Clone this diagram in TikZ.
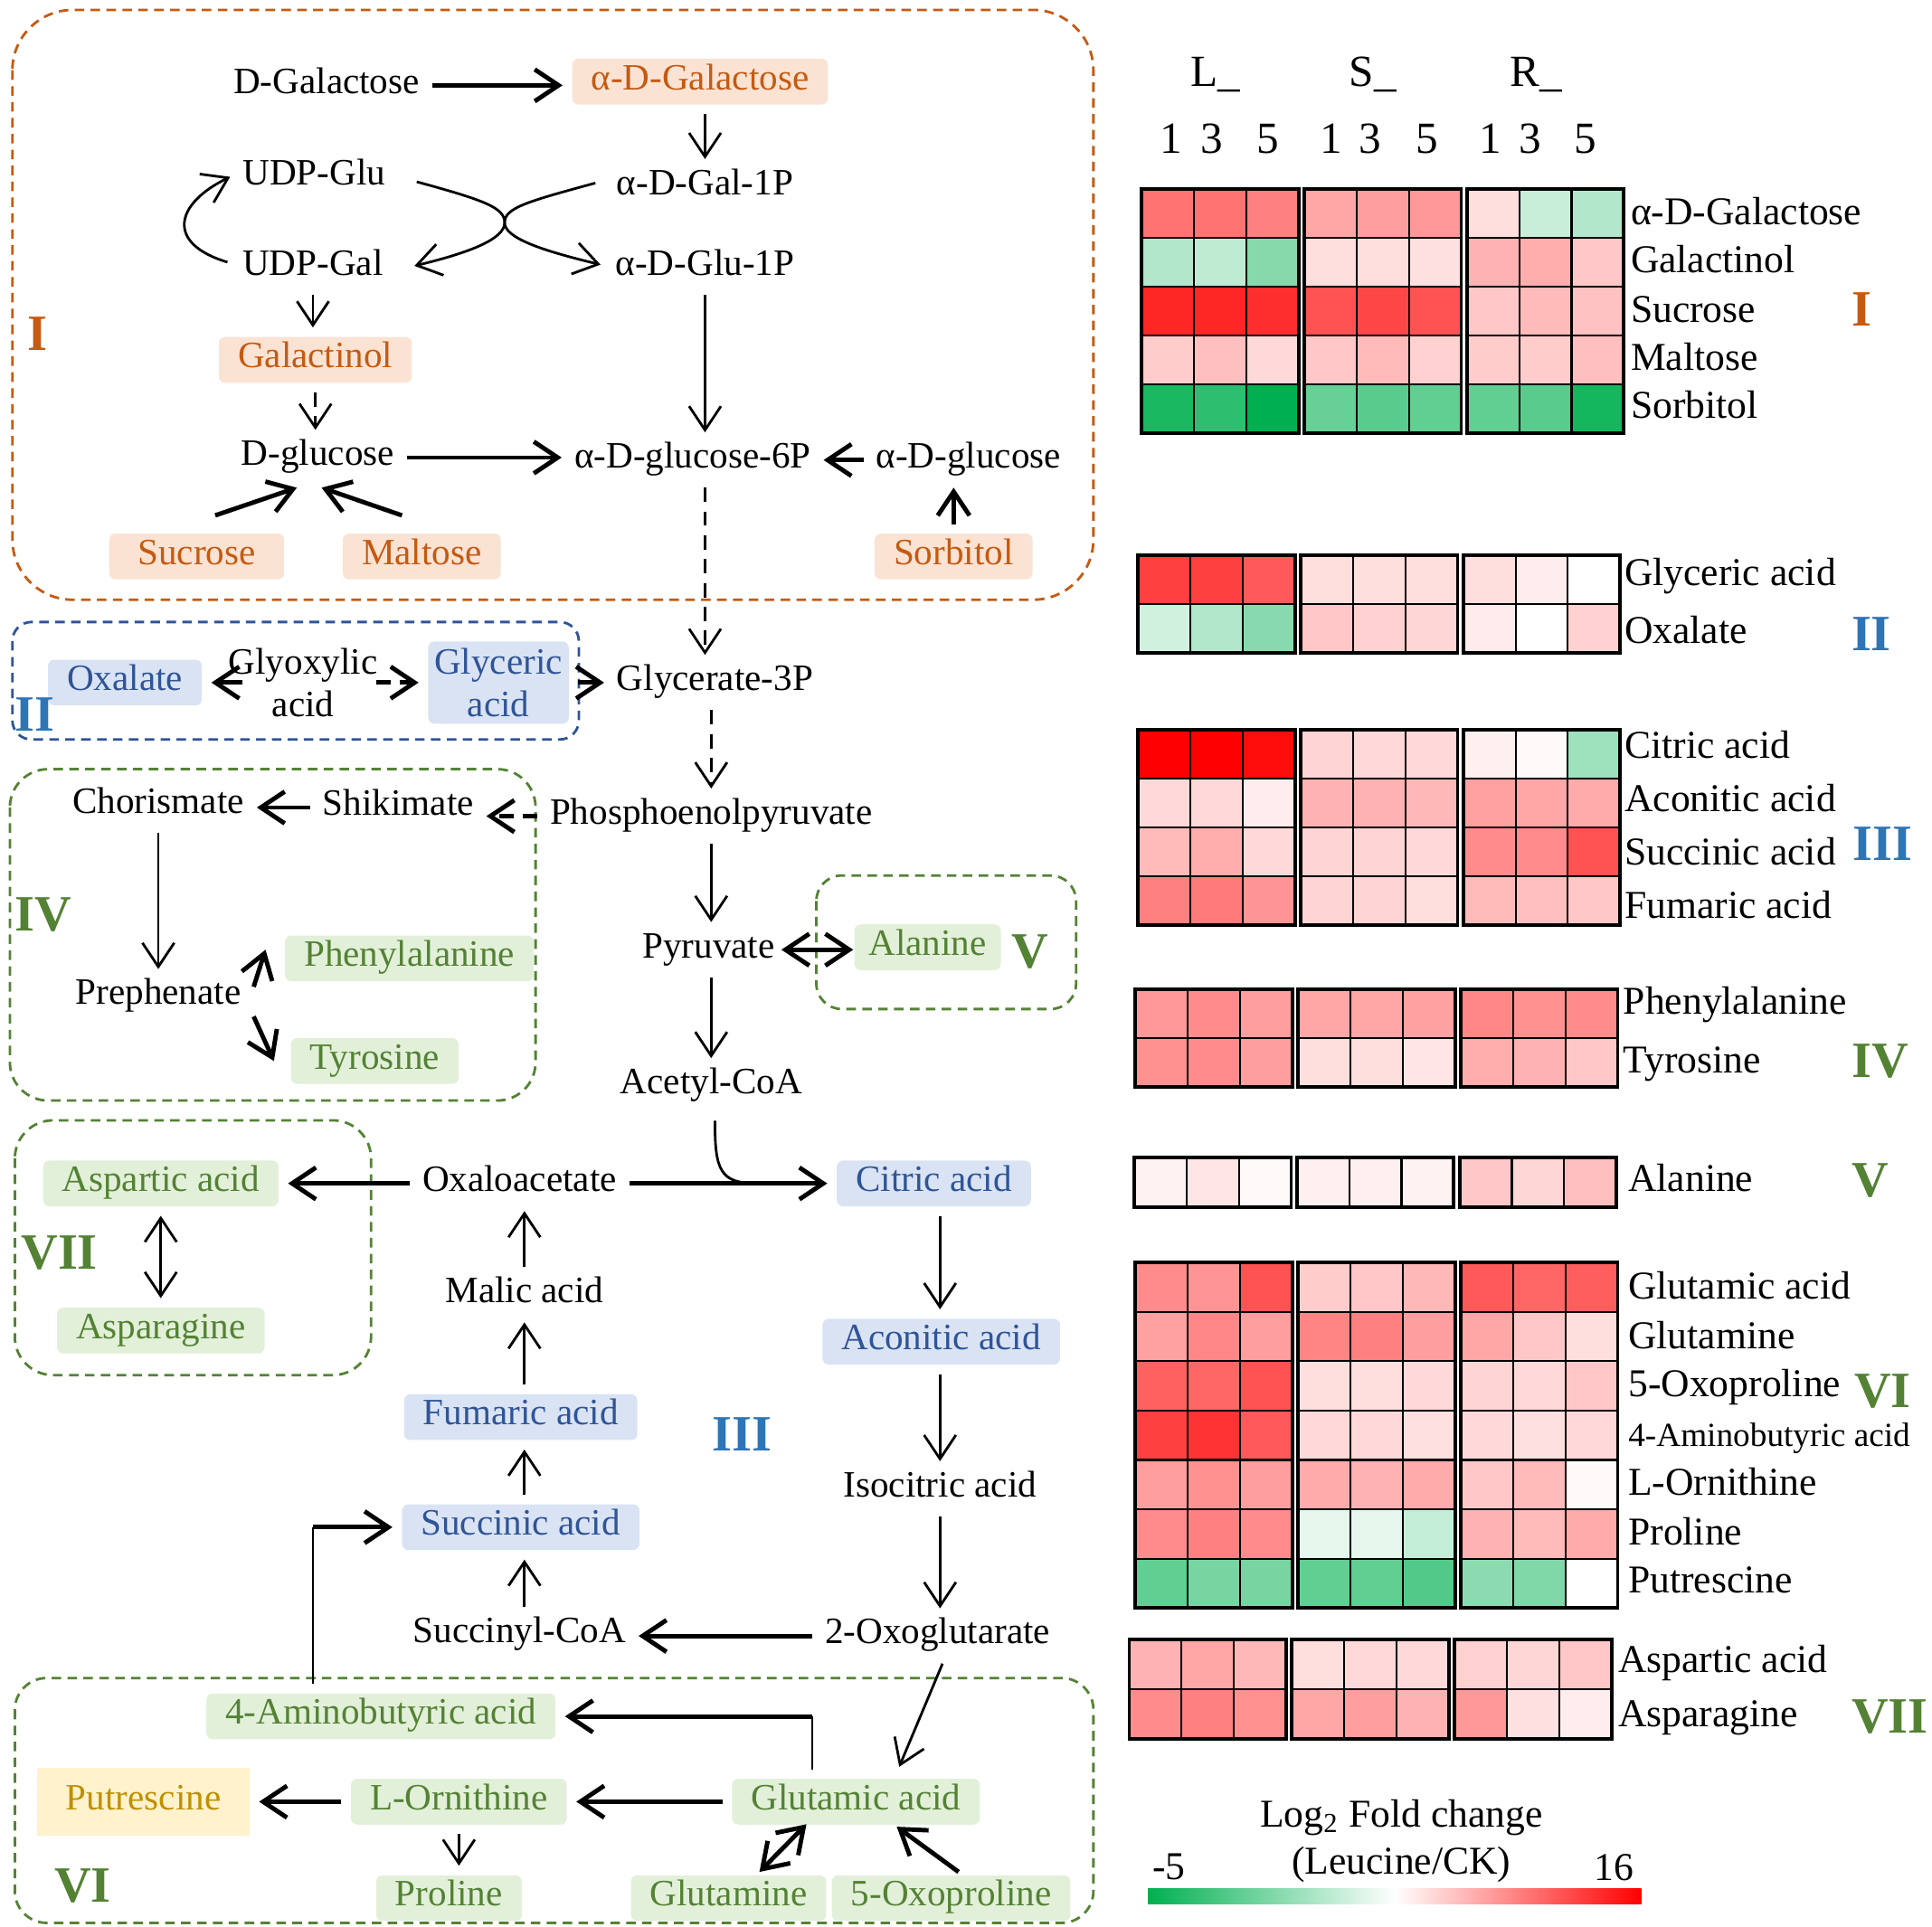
\documentclass[tikz,border=0pt]{standalone}
\usepackage{fontspec}
\setmainfont{Liberation Serif}
\usepackage{tikz}
\usetikzlibrary{arrows.meta,calc}

\definecolor{orgtext}{HTML}{C55A11}
\definecolor{orgfill}{HTML}{FBE3D4}
\definecolor{blutext}{HTML}{2F5597}
\definecolor{blufill}{HTML}{DAE3F3}
\definecolor{bluroman}{HTML}{2E75B6}
\definecolor{grntext}{HTML}{548235}
\definecolor{grnfill}{HTML}{E2F0D9}
\definecolor{yelfill}{HTML}{FFF2CC}
\definecolor{yeltext}{HTML}{BF9000}
\definecolor{hr}{RGB}{255,0,0}
\definecolor{hg}{RGB}{0,176,80}

\newcommand{\pathfont}{\fontsize{11.7}{13.6}\selectfont}
\newcommand{\heatfont}{\fontsize{12.4}{14}\selectfont}
\newcommand{\headfont}{\fontsize{14}{16}\selectfont}
\newcommand{\numfont}{\fontsize{16}{18}\selectfont\bfseries}

% one heatmap row: x of first block, top, height, nine colours
\newcommand{\hmrow}[4]{%
  \pgfmathsetmacro{\yt}{#2}
  \foreach \hc [count=\ci from 0] in #4 {
    \pgfmathsetmacro{\xl}{#1+floor(\ci/3)*131.5+mod(\ci,3)*42.3}
    \filldraw[hmcell,fill=\hc] (\xl,\yt) rectangle ++(42.3,#3);
  }}
% thick frames round the three blocks
\newcommand{\hmframe}[3]{%
  \foreach \bk in {0,1,2}
    \draw[line width=1.1pt] ({#1+\bk*131.5},#2) rectangle ++(126.9,#3);}

\begin{document}
\begin{tikzpicture}[x=0.013675cm,y=-0.013675cm,
    >={Straight Barb[length=7.5pt,width=10pt]},
    oneline/.style={text height=0.72em,text depth=0.22em},
    met/.style={font=\pathfont,inner sep=1pt,outer sep=3pt,oneline},
    mbox/.style={font=\pathfont,rounded corners=2pt,inner xsep=6pt,inner ysep=2.5pt,outer sep=3pt},
    obox/.style={mbox,oneline,fill=orgfill,text=orgtext},
    bbox/.style={mbox,oneline,fill=blufill,text=blutext},
    gbox/.style={mbox,oneline,fill=grnfill,text=grntext},
    ybox/.style={mbox,oneline,fill=yelfill,text=yeltext,rounded corners=0pt,inner xsep=9pt,inner ysep=6pt},
    arr/.style={->,line width=0.8pt},
    arrb/.style={->,line width=1.4pt},
    dbl/.style={<->,line width=0.8pt},
    dblb/.style={<->,line width=1.4pt},
    dsh/.style={dash pattern=on 4.5pt off 3pt},
    reg/.style={dash pattern=on 3pt off 2pt,line width=0.8pt},
    numlab/.style={font=\numfont,inner sep=0pt},
    hlab/.style={font=\heatfont,anchor=west,inner sep=0pt,text height=0.7em,text depth=0.2em},
    hdr/.style={font=\headfont,inner sep=0pt},
    hmcell/.style={draw=black,line width=0.6pt}]
  \useasboundingbox (0,0) rectangle (1562,1558);

  % region frames
  \draw[reg,orgtext,rounded corners=19pt] (10,8) rectangle (884,485);
  \draw[reg,blutext,rounded corners=6pt] (10,503) rectangle (468,598);
  \draw[reg,grntext,rounded corners=12pt] (8,622) rectangle (433,890);
  \draw[reg,grntext,rounded corners=8pt] (660,708) rectangle (870,816);
  \draw[reg,grntext,rounded corners=12pt] (12,906) rectangle (300,1112);
  \draw[reg,grntext,rounded corners=10pt] (12,1357) rectangle (884,1555);

  % sugars
  \node[met] (dgal) at (264,69) {D-Galactose};
  \node[obox] (adgal) at (566,66) {α-D-Galactose};
  \node[met] (gal1p) at (570,151) {α-D-Gal-1P};
  \node[met] (udpglu) at (254,143) {UDP-Glu};
  \node[met] (udpgal) at (253,216) {UDP-Gal};
  \node[met] (glu1p) at (570,216) {α-D-Glu-1P};
  \node[obox] (galnol) at (255,291) {Galactinol};
  \node[met] (dglc) at (257,370) {D-glucose};
  \node[met] (g6p) at (560,372) {α-D-glucose-6P};
  \node[met] (aglc) at (783,372) {α-D-glucose};
  \node[obox,inner xsep=9pt] (sucr) at (159,450) {Sucrose};
  \node[obox] (malt) at (341,450) {Maltose};
  \node[obox] (sorb) at (771,450) {Sorbitol};
  \coordinate (xc) at (408,180);

  \draw[arrb] (dgal.east) -- (dgal.east -| adgal.west);
  \draw[arr] (adgal.south -| gal1p) -- (gal1p.north);
  \draw[arr] ($(udpglu.east)+(15,4)$) .. controls +(55,15) and +(0,-12) .. (xc)
    .. controls +(0,12) and +(50,-12) .. ($(udpgal.east)+(15,-1)$);
  \draw[arr] ($(gal1p.west)+(-7,-3)$) .. controls +(-55,15) and +(0,-12) .. (xc)
    .. controls +(0,12) and +(-50,-12) .. ($(glu1p.west)+(-2,-2)$);
  \draw[arr] ($(udpgal.west)+(-2,-4)$) .. controls +(-50,-15) and +(-45,22) .. (udpglu.west);
  \draw[arr] (udpgal.south) -- (udpgal.south |- galnol.north);
  \draw[arr,dsh] (galnol.south) -- (galnol.south |- dglc.north);
  \draw[arr] (glu1p.south) -- (glu1p.south |- g6p.north);
  \draw[arrb] (dglc.east) -- (dglc.east -| g6p.west);
  \draw[arrb] (aglc.west) -- (aglc.west -| g6p.east);
  \draw[arrb] ($(sucr.north)+(15,-7)$) -- ($(dglc.south)+(-17,2)$);
  \draw[arrb] ($(malt.north)+(-16,-7)$) -- ($(dglc.south)+(3,2)$);
  \draw[arrb] (sorb.north) -- (sorb.north |- aglc.south);

  % glyoxylate branch
  \node[bbox] (oxal) at (101,552) {Oxalate};
  \node[font=\pathfont,align=center,inner sep=1pt] (glyox) at (245,552) {Glyoxylic\\acid};
  \node[mbox,fill=blufill,text=blutext,align=center,inner xsep=2pt,inner ysep=2pt] (glyc) at (403,552) {Glyceric\\acid};
  \node[met] (g3p) at (578,552) {Glycerate-3P};
  \draw[arrb] ($(glyox.west)+(14,0)$) -- (oxal.east);
  \draw[arrb,dsh] ($(glyox.east)+(-4,0)$) -- (glyc.west);
  \draw[arrb] (glyc.east) -- (glyc.east -| g3p.west);
  \draw[arr,dsh] (g6p.south -| glu1p) -- (glu1p |- g3p.north);

  % shikimate branch
  \node[met] (chor) at (128,651) {Chorismate};
  \node[met] (shik) at (322,653) {Shikimate};
  \node[met] (pep) at (575,660) {Phosphoenolpyruvate};
  \node[met] (preph) at (128,806) {Prephenate};
  \node[gbox] (phe) at (331,775) {Phenylalanine};
  \node[gbox] (tyr) at (303,858) {Tyrosine};
  \draw[arr,dsh] (g3p.south -| pep) -- (pep.north);
  \draw[arrb] (shik.west) -- (shik.west -| chor.east);
  \draw[arrb,dsh] (pep.west) -- (pep.west -| shik.east);
  \draw[arr] (chor.south) -- (chor.south |- preph.north);
  \draw[arrb] ($(preph.east)+(0,-8)$) -- ($(phe.west)+(-8,-7)$);
  \draw[arrb] ($(preph.east)+(0,16)$) -- ($(tyr.west)+(-6,0)$);

  % pyruvate
  \node[met] (pyr) at (573,768) {Pyruvate};
  \node[gbox,inner xsep=4.5pt,outer sep=0pt] (ala) at (750,766) {Alanine};
  \node[met] (acoa) at (575,878) {Acetyl-CoA};
  \draw[arr] (pep.south) -- (pep.south |- pyr.north);
  \draw[dblb] ($(pyr.east)+(-5,0)$) -- ($(pyr.east -| ala.west)+(-1,0)$);
  \draw[arr] (pyr.south -| pep) -- (pep |- acoa.north);

  % TCA cycle
  \node[met] (oaa) at (420,957) {Oxaloacetate};
  \node[bbox] (citr) at (755,957) {Citric acid};
  \node[gbox] (asp) at (130,957) {Aspartic acid};
  \node[gbox] (asn) at (130,1076) {Asparagine};
  \node[met] (malic) at (424,1047) {Malic acid};
  \node[bbox] (fum) at (421,1146) {Fumaric acid};
  \node[bbox] (succ) at (421,1235) {Succinic acid};
  \node[met] (sccoa) at (420,1322) {Succinyl-CoA};
  \node[bbox] (acon) at (761,1085) {Aconitic acid};
  \node[met] (isocit) at (760,1204) {Isocitric acid};
  \node[met] (oxog) at (758,1323) {2-Oxoglutarate};
  \coordinate (acj) at (612,957);
  \draw[arrb] (oaa.west) -- (oaa.west -| asp.east);
  \draw[arrb] (oaa.east) -- (oaa.east -| citr.west);
  \draw[line width=0.8pt] ($(acoa.south)+(3,6)$) .. controls +(0,40) and +(-30,0) .. (acj);
  \draw[dbl] (asp.south) -- (asn.north);
  \draw[arr] (malic.north) -- (malic.north |- oaa.south);
  \draw[arr] (fum.north -| malic) -- (malic.south);
  \draw[arr] (succ.north -| malic) -- (malic |- fum.south);
  \draw[arr] (sccoa.north -| malic) -- (malic |- succ.south);
  \draw[arr] (citr.south -| isocit) -- (isocit |- acon.north);
  \draw[arr] (acon.south -| isocit) -- (isocit.north);
  \draw[arr] (isocit.south) -- (isocit.south |- oxog.north);
  \draw[arrb] (oxog.west) -- (oxog.west -| sccoa.east);

  % amino acids
  \node[gbox] (gaba) at (308,1388) {4-Aminobutyric acid};
  \node[gbox] (glut) at (692,1457) {Glutamic acid};
  \node[gbox] (orn) at (371,1457) {L-Ornithine};
  \node[ybox] (put) at (116,1457) {Putrescine};
  \node[gbox] (pro) at (363,1535) {Proline};
  \node[gbox] (gln) at (589,1535) {Glutamine};
  \node[gbox] (oxpro) at (769,1535) {5-Oxoproline};
  \draw[arr] ($(oxog.south)+(4,0)$) -- ($(glut.north)+(35,-2)$);
  \draw[arrb] (glut.west) -- (glut.west -| orn.east);
  \draw[arrb] (orn.west) -- (orn.west -| put.east);
  \draw[arr] (orn.south) -- (orn.south |- pro.north);
  \draw[dblb] ($(gln.north)+(25,5)$) -- ($(glut.south)+(-40,-8)$);
  \draw[arrb] ($(oxpro.north)+(6,5)$) -- ($(glut.south)+(33,-6)$);
  \coordinate (gtop) at ($(glut.north)+(-35,0)$);
  \draw[line width=0.6pt] (gtop) -- (gtop |- gaba.east);
  \draw[arrb] (gtop |- gaba.east) -- (gaba.east);
  \coordinate (gbot) at ($(gaba.north)+(-55,0)$);
  \draw[line width=0.6pt] (gbot) -- (gbot |- succ.west);
  \draw[arrb] (gbot |- succ.west) -- (succ.west);

  % region numbers
  \node[numlab,text=orgtext] (rI) at (30,270) {I};
  \node[numlab,text=bluroman] (rII) at (28,578) {II};
  \node[numlab,text=grntext] (rIV) at (35,740) {IV};
  \node[numlab,text=grntext] (rV) at (833,770) {V};
  \node[numlab,text=grntext] (rVII) at (48,1013) {VII};
  \node[numlab,text=bluroman] (rIII) at (600,1160) {III};
  \node[numlab,text=grntext] (rVI) at (67,1525) {VI};

  % heatmap header
  \node[hdr] (cL) at (983,60) {L\_};
  \node[hdr] (cS) at (1110,60) {S\_};
  \node[hdr] (cR) at (1242,60) {R\_};
  \foreach \xx/\dd [count=\k] in {947/1,980/3,1025/5,1076/1,1108/3,1154/5,1205/1,1237/3,1282/5}
    \node[hdr] (day\k) at (\xx,112) {\dd};

  % heatmap I
  \foreach \rw [count=\rr from 0] in {
    {hr!55,hr!55,hr!50,hr!35,hr!38,hr!40,hr!13,hg!22,hg!30},
    {hg!30,hg!25,hg!48,hr!13,hr!13,hr!12,hr!30,hr!32,hr!22},
    {hr!85,hr!85,hr!82,hr!68,hr!72,hr!68,hr!22,hr!27,hr!24},
    {hr!20,hr!25,hr!15,hr!22,hr!27,hr!18,hr!20,hr!20,hr!25},
    {hg!90,hg!82,hg!100,hg!60,hg!65,hg!62,hg!62,hg!65,hg!92}}
    {\hmrow{923}{153+\rr*39.4}{39.4}{\rw}}
  \hmframe{923}{153}{197}
  % heatmap II
  \foreach \rw [count=\rr from 0] in {
    {hr!75,hr!75,hr!65,hr!13,hr!13,hr!13,hr!13,hr!7,white},
    {hg!18,hg!30,hg!47,hr!22,hr!18,hr!16,hr!8,white,hr!18}}
    {\hmrow{920}{449+\rr*39.5}{39.5}{\rw}}
  \hmframe{920}{449}{79}
  % heatmap III
  \foreach \rw [count=\rr from 0] in {
    {hr!100,hr!100,hr!95,hr!17,hr!15,hr!15,hr!6,hr!2,hg!38},
    {hr!15,hr!15,hr!7,hr!30,hr!30,hr!28,hr!37,hr!35,hr!33},
    {hr!27,hr!32,hr!15,hr!17,hr!17,hr!15,hr!45,hr!45,hr!68},
    {hr!50,hr!52,hr!42,hr!17,hr!17,hr!13,hr!27,hr!25,hr!22}}
    {\hmrow{920}{590+\rr*39.5}{39.5}{\rw}}
  \hmframe{920}{590}{158}
  % heatmap IV
  \foreach \rw [count=\rr from 0] in {
    {hr!40,hr!45,hr!38,hr!35,hr!35,hr!37,hr!47,hr!43,hr!45},
    {hr!43,hr!45,hr!38,hr!13,hr!13,hr!10,hr!32,hr!30,hr!22}}
    {\hmrow{918}{800+\rr*39.5}{39.5}{\rw}}
  \hmframe{918}{800}{79}
  % heatmap V
  \foreach \rw [count=\rr from 0] in {
    {hr!5,hr!10,hr!2,hr!6,hr!6,hr!5,hr!22,hr!16,hr!25}}
    {\hmrow{917}{936+\rr*40}{40}{\rw}}
  \hmframe{917}{936}{40}
  % heatmap VI
  \foreach \rw [count=\rr from 0] in {
    {hr!45,hr!42,hr!68,hr!20,hr!22,hr!28,hr!65,hr!60,hr!63},
    {hr!37,hr!47,hr!38,hr!48,hr!50,hr!38,hr!35,hr!22,hr!13},
    {hr!62,hr!60,hr!68,hr!13,hr!13,hr!15,hr!17,hr!15,hr!22},
    {hr!75,hr!80,hr!65,hr!15,hr!15,hr!12,hr!15,hr!12,hr!15},
    {hr!38,hr!43,hr!38,hr!33,hr!30,hr!33,hr!22,hr!27,hr!2},
    {hr!45,hr!50,hr!45,hg!10,hg!10,hg!23,hr!30,hr!27,hr!33},
    {hg!62,hg!53,hg!53,hg!62,hg!62,hg!68,hg!45,hg!50,white}}
    {\hmrow{918}{1021+\rr*39.9}{39.9}{\rw}}
  \hmframe{918}{1021}{279.3}
  % heatmap VII
  \foreach \rw [count=\rr from 0] in {
    {hr!30,hr!35,hr!28,hr!13,hr!15,hr!15,hr!18,hr!16,hr!22},
    {hr!45,hr!50,hr!43,hr!35,hr!38,hr!30,hr!40,hr!12,hr!7}}
    {\hmrow{913}{1326+\rr*40}{40}{\rw}}
  \hmframe{913}{1326}{80}

  % heatmap labels
  \foreach \yy/\tx [count=\k] in {175/α-D-Galactose,214/Galactinol,254/Sucrose,293/Maltose,332/Sorbitol}
    \node[hlab] (labA\k) at (1318,\yy) {\tx};
  \foreach \yy/\tx [count=\k] in {467/Glyceric acid,514/Oxalate,607/Citric acid,650/Aconitic acid,693/Succinic acid,736/Fumaric acid}
    \node[hlab] (labB\k) at (1313,\yy) {\tx};
  \foreach \yy/\tx [count=\k] in {814/Phenylalanine,861/Tyrosine}
    \node[hlab] (labC\k) at (1312,\yy) {\tx};
  \foreach \yy/\tx [count=\k] in {957/Alanine,1044/Glutamic acid,1084/Glutamine,1123/5-Oxoproline,1203/L-Ornithine,1243/Proline,1282/Putrescine}
    \node[hlab] (labD\k) at (1316,\yy) {\tx};
  \node[hlab,font=\fontsize{10.6}{12}\selectfont] (labgaba) at (1316,1163) {4-Aminobutyric acid};
  \foreach \yy/\tx [count=\k] in {1346/Aspartic acid,1390/Asparagine}
    \node[hlab] (labE\k) at (1308,\yy) {\tx};

  \node[numlab,text=orgtext] (hI) at (1505,250) {I};
  \node[numlab,text=bluroman] (hII) at (1513,513) {II};
  \node[numlab,text=bluroman] (hIII) at (1522,682) {III};
  \node[numlab,text=grntext] (hIV) at (1520,858) {IV};
  \node[numlab,text=grntext] (hV) at (1512,955) {V};
  \node[numlab,text=grntext] (hVI) at (1522,1125) {VI};
  \node[numlab,text=grntext] (hVII) at (1528,1388) {VII};

  % colour key
  \shade[left color=hg,right color=hr,middle color=white] (928,1527) rectangle (1327,1540);
  \node[font=\heatfont,inner sep=0pt] (keyt) at (1133,1470) {Log\textsubscript{2} Fold change};
  \node[font=\heatfont,inner sep=0pt] (keyc) at (1133,1508) {(Leucine/CK)};
  \node[font=\heatfont,inner sep=0pt] (keymin) at (945,1510) {-5};
  \node[font=\heatfont,inner sep=0pt] (keymax) at (1305,1510) {16};
\end{tikzpicture}
\end{document}
